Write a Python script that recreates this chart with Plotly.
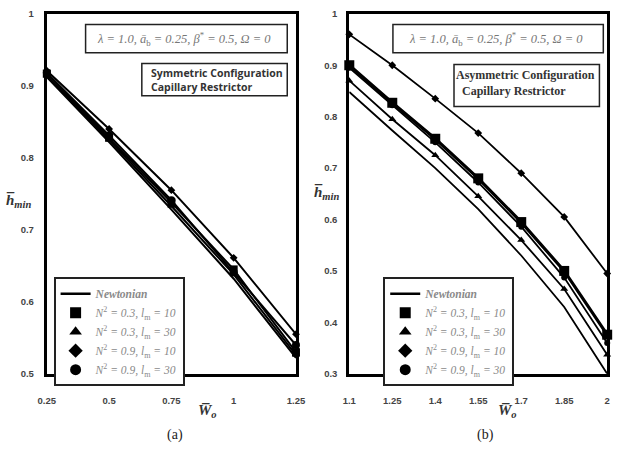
import plotly.graph_objects as go

W, H = 623, 450

# ---------------- data ----------------
xa = [0.25, 0.5, 0.75, 1.0, 1.25]
a_newton = [0.912, 0.822, 0.728, 0.632, 0.522]
a_sq = [0.917, 0.828, 0.738, 0.645, 0.530]
a_tri = [0.914, 0.825, 0.733, 0.638, 0.526]
a_dia = [0.921, 0.840, 0.755, 0.661, 0.555]
a_cir = [0.918, 0.831, 0.741, 0.641, 0.540]

xb = [1.1, 1.25, 1.4, 1.55, 1.7, 1.85, 2.0]
b_newton = [0.848, 0.773, 0.700, 0.620, 0.530, 0.430, 0.300]
b_sq = [0.900, 0.827, 0.757, 0.680, 0.595, 0.500, 0.376]
b_tri = [0.870, 0.795, 0.725, 0.645, 0.560, 0.465, 0.337]
b_dia = [0.960, 0.900, 0.835, 0.768, 0.690, 0.605, 0.495]
b_cir = [0.895, 0.822, 0.750, 0.672, 0.586, 0.487, 0.360]

xa_ticks = [0.25, 0.5, 0.75, 1.0, 1.25]
xa_text = ["0.25", "0.5", "0.75", "1", "1.25"]
ya_ticks = [0.5, 0.6, 0.7, 0.8, 0.9, 1.0]
ya_text = ["0.5", "0.6", "0.7", "0.8", "0.9", "1"]
xb_ticks = [1.1, 1.25, 1.4, 1.55, 1.7, 1.85, 2.0]
xb_text = ["1.1", "1.25", "1.4", "1.55", "1.7", "1.85", "2"]
yb_ticks = [0.3, 0.4, 0.5, 0.6, 0.7, 0.8, 0.9, 1.0]
yb_text = ["0.3", "0.4", "0.5", "0.6", "0.7", "0.8", "0.9", "1"]

names = [
    "<b><i>Newtonian</i></b>",
    "<i>N</i><sup>2</sup><i> = 0.3, l</i><sub>m</sub><i> = 10</i>",
    "<i>N</i><sup>2</sup><i> = 0.3, l</i><sub>m</sub><i> = 30</i>",
    "<i>N</i><sup>2</sup><i> = 0.9, l</i><sub>m</sub><i> = 10</i>",
    "<i>N</i><sup>2</sup><i> = 0.9, l</i><sub>m</sub><i> = 30</i>",
]
symbols = [None, "square", "triangle-up", "diamond", "circle"]

fig = go.Figure()


def px_x(p):
    return p / W


def px_y(p):
    return 1 - p / H


def add_panel(xv, series, xaxis, yaxis, sizes, widths):
    for i, ys in enumerate(series):
        mode = "lines" if symbols[i] is None else "lines+markers"
        fig.add_trace(go.Scatter(
            x=xv, y=ys, mode=mode, xaxis=xaxis, yaxis=yaxis,
            line=dict(color="black", width=widths[i]),
            marker=dict(symbol=symbols[i] or "circle", size=sizes[i], color="black"),
            cliponaxis=False, showlegend=False, hoverinfo="skip"))


add_panel(xa, [a_newton, a_sq, a_tri, a_dia, a_cir], "x", "y",
          [0, 8, 7, 6, 8], [2, 2, 2, 2, 2])
add_panel(xb, [b_newton, b_sq, b_tri, b_dia, b_cir], "x2", "y2",
          [0, 10, 7, 6, 6], [1.8, 3.2, 1.8, 1.8, 1.8])

# legend-only entries (legend markers are drawn larger)
for leg, xax, yax in [("legend", "x", "y"), ("legend2", "x2", "y2")]:
    for i in range(5):
        if symbols[i] is None:
            fig.add_trace(go.Scatter(x=[None], y=[None], mode="lines", name=names[i],
                                     xaxis=xax, yaxis=yax, legend=leg,
                                     line=dict(color="black", width=2.5)))
        else:
            fig.add_trace(go.Scatter(x=[None], y=[None], mode="markers", name=names[i],
                                     xaxis=xax, yaxis=yax, legend=leg,
                                     marker=dict(symbol=symbols[i], size=11, color="black")))

tickfont = dict(family="Liberation Sans", size=9.5, color="#444", weight="bold")
axis_common = dict(showgrid=False, zeroline=False, showline=True, mirror=True,
                   linecolor="black", linewidth=3, ticks="", tickfont=tickfont)

legfont = dict(family="Liberation Serif", size=11.5, color="#8a8a8a")
ydom = [px_y(377), px_y(8)]
fig.update_layout(
    width=W, height=H, margin=dict(l=0, r=0, t=0, b=0),
    paper_bgcolor="white", plot_bgcolor="white",
    xaxis=dict(domain=[px_x(39), px_x(296)], range=[0.25, 1.25], tickvals=xa_ticks,
               ticktext=xa_text, anchor="y", ticklabelstandoff=16, **axis_common),
    yaxis=dict(domain=ydom, range=[0.5, 1.0], tickvals=ya_ticks, ticktext=ya_text,
               anchor="x", ticklabelstandoff=8, **axis_common),
    xaxis2=dict(domain=[px_x(351), px_x(617)], range=[1.1, 2.0], tickvals=xb_ticks,
                ticktext=xb_text, anchor="y2", ticklabelstandoff=16, **axis_common),
    yaxis2=dict(domain=ydom, range=[0.3, 1.0], tickvals=yb_ticks, ticktext=yb_text,
                anchor="x2", ticklabelstandoff=7, **axis_common),
    legend=dict(x=px_x(46), y=px_y(278), xanchor="left", yanchor="top",
                bgcolor="white", bordercolor="#222", borderwidth=2,
                font=legfont, tracegroupgap=0, itemwidth=30),
    legend2=dict(x=px_x(386), y=px_y(278), xanchor="left", yanchor="top",
                 bgcolor="white", bordercolor="#222", borderwidth=2,
                 font=legfont, tracegroupgap=0, itemwidth=30),
)

shapes = []
annotations = []


def box(x0, y0, x1, y1):
    shapes.append(dict(type="rect", xref="paper", yref="paper",
                       x0=px_x(x0), x1=px_x(x1), y0=px_y(y1), y1=px_y(y0),
                       line=dict(color="#222", width=1.5), fillcolor="white", layer="above"))


def text(x, y, t, size, family, color="#222", xanchor="center", align="center"):
    annotations.append(dict(x=px_x(x), y=px_y(y), xref="paper", yref="paper", text=t,
                            showarrow=False, xanchor=xanchor, yanchor="middle", align=align,
                            font=dict(size=size, family=family, color=color)))


param = "<i>λ = 1.0, ā</i><sub>b</sub><i> = 0.25, β</i><sup>*</sup><i> = 0.5, Ω = 0</i>"
# left panel boxes
box(79, 19, 287, 48)
text(180, 33.5, param, 12.5, "Liberation Serif", "#777")
box(137, 59, 287, 92)
text(144, 75.5, "<b>Symmetric Configuration<br>Capillary Restrictor</b>", 10.5,
     "Open Sans", "#333", xanchor="left", align="left")
# right panel boxes
box(396, 19, 613, 48)
text(502, 33.5, param, 12.5, "Liberation Serif", "#777")
box(459, 60, 609, 103)
text(459, 79, "<b>Asymmetric Configuration<br>  Capillary Restrictor</b>", 12,
     "Liberation Serif", "#333", xanchor="left", align="left")

# axis titles
xt = "<b><i>W\u0305</i></b><sub><b><i>o</i></b></sub>"
yt = "<b><i>h\u0305</i></b><sub><b><i>min</i></b></sub>"
text(205, 415, xt, 15, "Liberation Serif", "#333")
text(514, 415, xt, 15, "Liberation Serif", "#333")
text(10, 200, yt, 15, "Liberation Serif", "#333")
text(328, 192, yt, 15, "Liberation Serif", "#333")
# panel labels
text(171, 440, "(a)", 14, "Liberation Serif", "#222")
text(491, 440, "(b)", 14, "Liberation Serif", "#222")

fig.update_layout(shapes=shapes, annotations=annotations)
fig.write_html("out.html")
